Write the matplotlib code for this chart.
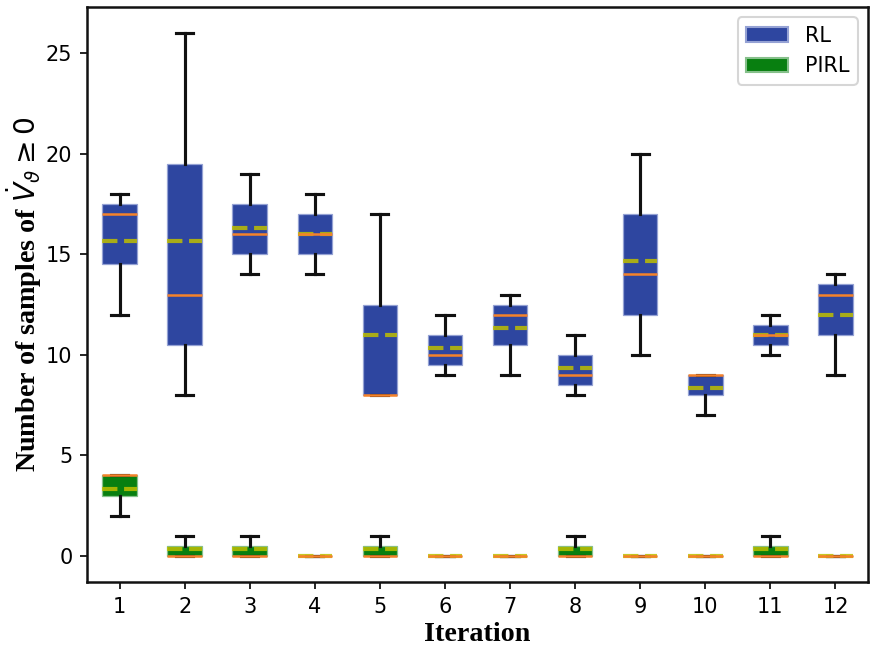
import matplotlib
matplotlib.use("Agg")
import matplotlib.pyplot as plt
from matplotlib.patches import Patch

# Valeurs (12 itérations)
iterations = list(range(1, 13))

rl_q1 = [14.5, 10.5, 15, 15, 8, 9.5, 10.5, 8.5, 12, 8, 10.5, 11]
rl_q3 = [17.5, 19.5, 17.5, 17, 12.5, 11, 12.5, 10, 17, 9, 11.5, 13.5]
rl_med = [17, 13, 16, 16, 8, 10, 12, 9, 14, 9, 11, 13]
rl_mean = [15.67, 15.67, 16.33, 16.0, 11, 10.33, 11.33, 9.33, 14.67, 8.33, 11, 12]
rl_low = [12, 8, 14, 14, 8, 9, 9, 8, 10, 7, 10, 9]
rl_high = [18, 26, 19, 18, 17, 12, 13, 11, 20, 9, 12, 14]

pirl_q1 = [3, 0, 0, 0, 0, 0, 0, 0, 0, 0, 0, 0]
pirl_q3 = [4, 0.5, 0.5, 0, 0.5, 0, 0, 0.5, 0, 0, 0.5, 0]
pirl_med = [4, 0, 0, 0, 0, 0, 0, 0, 0, 0, 0, 0]
pirl_mean = [3.33, 0.33, 0.33, 0, 0.33, 0, 0, 0.33, 0, 0, 0.33, 0]
pirl_low = [2, 0, 0, 0, 0, 0, 0, 0, 0, 0, 0, 0]
pirl_high = [4, 1, 1, 0, 1, 0, 0, 1, 0, 0, 1, 0]


def make_stats(q1, q3, med, mean, low, high):
    return [dict(q1=a, q3=b, med=m, mean=mu, whislo=lo, whishi=hi, fliers=[])
            for a, b, m, mu, lo, hi in zip(q1, q3, med, mean, low, high)]


def draw(ax, stats, face, edge):
    ax.bxp(stats, positions=iterations, widths=0.53, patch_artist=True,
           showmeans=True, meanline=True, showfliers=False,
           boxprops=dict(facecolor=face, edgecolor=edge, linewidth=0.6),
           whiskerprops=dict(color='#111111', linewidth=1.5),
           capprops=dict(color='#111111', linewidth=1.5),
           medianprops=dict(color='#F5822A', linewidth=1.2, zorder=4),
           meanprops=dict(color='y', linestyle='--', linewidth=2, alpha=0.85, zorder=3))


fig = plt.figure(figsize=(877 / 150, 649 / 150), dpi=150)
ax = fig.add_axes([87 / 877, 67 / 649, 781 / 877, 575 / 649])

rl_face, rl_edge = '#2E46A0', '#95A2D4'
pirl_face, pirl_edge = '#087F10', '#86C08B'

draw(ax, make_stats(rl_q1, rl_q3, rl_med, rl_mean, rl_low, rl_high), rl_face, rl_edge)
draw(ax, make_stats(pirl_q1, pirl_q3, pirl_med, pirl_mean, pirl_low, pirl_high), pirl_face, pirl_edge)

ax.set_xlim(0.5, 12.5)
ax.set_ylim(-1.3, 27.3)
ax.set_xticks(iterations)
ax.set_xticklabels([str(i) for i in iterations])
ax.set_yticks([0, 5, 10, 15, 20, 25])
for s in ax.spines.values():
    s.set_linewidth(1.2)
    s.set_color('#111111')

label_font = dict(family='Liberation Serif', weight='bold', size=13.5)
ax.set_xlabel('Iteration', fontdict=label_font, labelpad=2.5)
ax.set_ylabel(r'Number of samples of $\dot{V}_\vartheta \geq 0$', fontdict=label_font, labelpad=1)

handles = [Patch(facecolor=rl_face, edgecolor=rl_edge, label='RL'),
           Patch(facecolor=pirl_face, edgecolor=pirl_edge, label='PIRL')]
ax.legend(handles=handles, loc='upper right')

fig.savefig('out.png', dpi=150)
